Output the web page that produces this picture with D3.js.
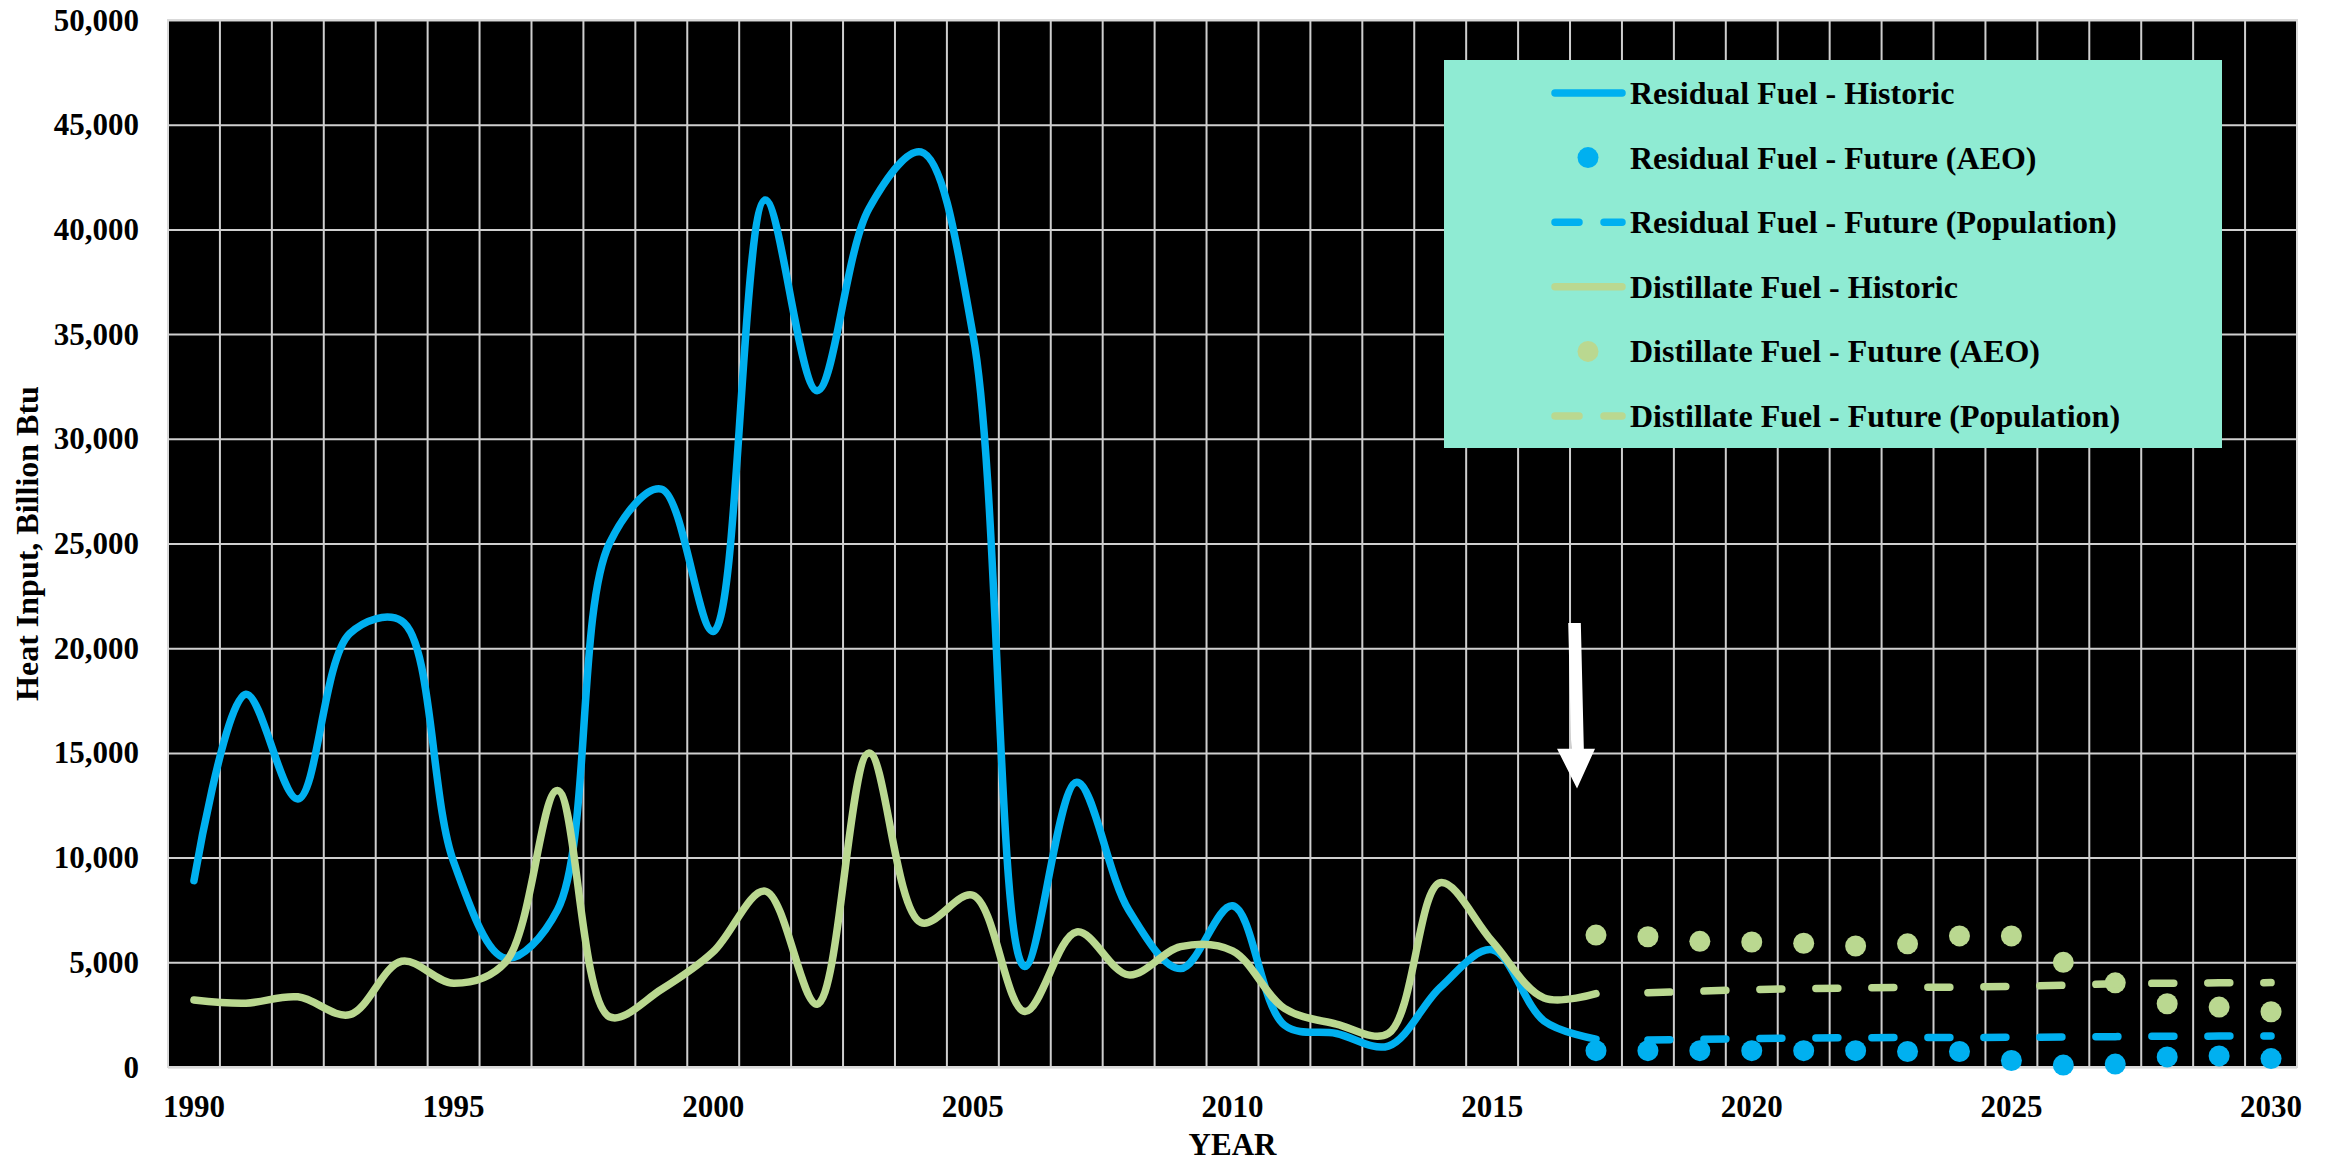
<!DOCTYPE html>
<html>
<head>
<meta charset="utf-8">
<script src="https://cdn.jsdelivr.net/npm/d3@7/dist/d3.min.js"></script>
<style>
  html, body { margin: 0; padding: 0; background: #ffffff; }
  svg { display: block; }
  text { font-family: "Liberation Serif", "Times New Roman", serif; font-weight: bold; fill: #000; }
</style>
</head>
<body>
<svg id="chart" width="2338" height="1161"></svg>
<script>
// ---- Data ---------------------------------------------------------------
const years = [1990, 1991, 1992, 1993, 1994, 1995, 1996, 1997, 1998, 1999,
               2000, 2001, 2002, 2003, 2004, 2005, 2006, 2007, 2008, 2009,
               2010, 2011, 2012, 2013, 2014, 2015, 2016, 2017, 2018, 2019,
               2020, 2021, 2022, 2023, 2024, 2025, 2026, 2027, 2028, 2029, 2030];

const xTickYears = [1990, 1995, 2000, 2005, 2010, 2015, 2020, 2025, 2030];
const yTicks = [0, 5000, 10000, 15000, 20000, 25000, 30000, 35000, 40000, 45000, 50000];

const historicYears = [1990, 1991, 1992, 1993, 1994, 1995, 1996, 1997, 1998, 1999,
                       2000, 2001, 2002, 2003, 2004, 2005, 2006, 2007, 2008, 2009,
                       2010, 2011, 2012, 2013, 2014, 2015, 2016, 2017];
const residualHistoric = [8900, 17800, 12800, 20700, 21300, 9800, 5200, 7500, 25000, 27600,
                          20800, 41400, 32300, 41000, 43700, 35000, 4800, 13600, 7500, 4700,
                          7700, 2000, 1600, 1000, 3800, 5600, 2200, 1330];
const distillateHistoric = [3200, 3050, 3350, 2500, 5050, 4000, 5000, 13200, 2400, 3700,
                            5500, 8400, 3000, 15000, 6900, 8200, 2650, 6450, 4400, 5750,
                            5550, 2800, 2050, 1600, 8800, 6000, 3300, 3500];

const aeoYears = [2017, 2018, 2019, 2020, 2021, 2022, 2023, 2024, 2025, 2026, 2027, 2028, 2029, 2030];
const residualAEO = [780, 780, 780, 780, 780, 780, 740, 740, 310, 90, 140, 480, 530, 400];
const distillateAEO = [6300, 6220, 6000, 5970, 5910, 5780, 5880, 6260, 6260, 5000, 4020, 3020, 2860, 2640];

const popYears = [2018, 2019, 2020, 2021, 2022, 2023, 2024, 2025, 2026, 2027, 2028, 2029, 2030];
const residualPop = [1290, 1320, 1360, 1380, 1400, 1405, 1410, 1420, 1430, 1450, 1470, 1475, 1480];
const distillatePop = [3550, 3620, 3700, 3740, 3780, 3800, 3810, 3850, 3900, 3980, 4000, 4020, 4030];

const legendLabels = [
  "Residual Fuel - Historic",
  "Residual Fuel - Future (AEO)",
  "Residual Fuel - Future (Population)",
  "Distillate Fuel - Historic",
  "Distillate Fuel - Future (AEO)",
  "Distillate Fuel - Future (Population)"
];

// ---- Styles -------------------------------------------------------------
const BLUE = "#00B0F0";
const GREEN = "#BAD890";
const GRID = "#CFCFCF";
const LEGEND_BG = "#8FEBD3";
const LINE_W = 7.5;
const DOT_R = 10.5;
const DASH = "22 34";

// ---- Layout & scales ----------------------------------------------------
const plot = { left: 168, right: 2297, top: 20, bottom: 1067 };
const svg = d3.select("#chart");

const x = d3.scaleBand().domain(years).range([plot.left, plot.right]).padding(0);
const xc = yr => x(yr) + x.bandwidth() / 2;
const y = d3.scaleLinear().domain([0, 50000]).range([plot.bottom, plot.top]);

// Plot background
svg.append("rect")
  .attr("x", plot.left).attr("y", plot.top)
  .attr("width", plot.right - plot.left).attr("height", plot.bottom - plot.top)
  .attr("fill", "#000");

// Horizontal gridlines via a left axis with full-width ticks
const yGrid = svg.append("g")
  .attr("transform", `translate(${plot.left},0)`)
  .call(d3.axisLeft(y).tickValues(yTicks).tickSize(-(plot.right - plot.left)).tickFormat(""));
yGrid.select(".domain").remove();
yGrid.selectAll("line").attr("stroke", GRID).attr("stroke-width", 2);

// Vertical gridlines at every category boundary
const boundaries = years.map(yr => x(yr)).concat([x(years[years.length - 1]) + x.bandwidth()]);
svg.append("g").selectAll("line")
  .data(boundaries)
  .join("line")
  .attr("x1", d => d).attr("x2", d => d)
  .attr("y1", plot.top).attr("y2", plot.bottom)
  .attr("stroke", GRID).attr("stroke-width", 2);

// Plot frame
svg.append("rect")
  .attr("x", plot.left).attr("y", plot.top)
  .attr("width", plot.right - plot.left).attr("height", plot.bottom - plot.top)
  .attr("fill", "none").attr("stroke", "#D9D9D9").attr("stroke-width", 2);

// Y tick labels
const fmt = d3.format(",");
svg.append("g").selectAll("text")
  .data(yTicks)
  .join("text")
  .attr("x", plot.left - 29)
  .attr("y", d => y(d) + 10.5)
  .attr("text-anchor", "end")
  .attr("font-size", 31)
  .text(d => fmt(d));

// X tick labels
svg.append("g").selectAll("text")
  .data(xTickYears)
  .join("text")
  .attr("x", d => xc(d))
  .attr("y", 1117)
  .attr("text-anchor", "middle")
  .attr("font-size", 31)
  .text(d => d);

// Axis titles
svg.append("text")
  .attr("x", (plot.left + plot.right) / 2)
  .attr("y", 1155)
  .attr("text-anchor", "middle")
  .attr("font-size", 31)
  .text("YEAR");

svg.append("text")
  .attr("transform", `translate(38,${(plot.top + plot.bottom) / 2}) rotate(-90)`)
  .attr("text-anchor", "middle")
  .attr("font-size", 32)
  .text("Heat Input, Billion Btu");

// ---- Series -------------------------------------------------------------
const smooth = d3.line()
  .x(d => xc(d[0]))
  .y(d => y(d[1]))
  .curve(d3.curveCatmullRom.alpha(0.5));
const straight = d3.line()
  .x(d => xc(d[0]))
  .y(d => y(d[1]));

const zip = (a, b) => a.map((v, i) => [v, b[i]]);

function drawHistoric(vals, color) {
  svg.append("path")
    .datum(zip(historicYears, vals))
    .attr("d", smooth)
    .attr("fill", "none")
    .attr("stroke", color)
    .attr("stroke-width", LINE_W)
    .attr("stroke-linecap", "round")
    .attr("stroke-linejoin", "round");
}
function drawDots(vals, color) {
  svg.append("g").selectAll("circle")
    .data(zip(aeoYears, vals))
    .join("circle")
    .attr("cx", d => xc(d[0]))
    .attr("cy", d => y(d[1]))
    .attr("r", DOT_R)
    .attr("fill", color);
}
function drawPop(vals, color) {
  svg.append("path")
    .datum(zip(popYears, vals))
    .attr("d", straight)
    .attr("fill", "none")
    .attr("stroke", color)
    .attr("stroke-width", LINE_W)
    .attr("stroke-linecap", "round")
    .attr("stroke-dasharray", DASH);
}

drawHistoric(residualHistoric, BLUE);
drawDots(residualAEO, BLUE);
drawPop(residualPop, BLUE);
drawHistoric(distillateHistoric, GREEN);
drawDots(distillateAEO, GREEN);
drawPop(distillatePop, GREEN);

// ---- Arrow marking the start of the projections ---------------------------
const arrowYear = 2017;
const arrowTop = 21200, arrowHeadBase = 15200, arrowTip = 13300;
const ax = x(arrowYear) + 6;
const shaftHalf = 6.3, headHalf = 19;
const arrowPts = [
  [ax - shaftHalf - 1.5, y(arrowTop)],
  [ax + shaftHalf - 1.5, y(arrowTop)],
  [ax + shaftHalf + 1.5, y(arrowHeadBase)],
  [ax + headHalf, y(arrowHeadBase)],
  [ax + 1, y(arrowTip)],
  [ax - headHalf, y(arrowHeadBase)],
  [ax - shaftHalf + 1.5, y(arrowHeadBase)]
];
svg.append("path")
  .attr("d", d3.line()(arrowPts) + "Z")
  .attr("fill", "#ffffff");

// ---- Legend -------------------------------------------------------------
const legend = svg.append("g");
legend.append("rect")
  .attr("x", 1444).attr("y", 60)
  .attr("width", 778).attr("height", 388)
  .attr("fill", LEGEND_BG);

const legendKinds = ["line", "dot", "dash", "line", "dot", "dash"];
const legendColors = [BLUE, BLUE, BLUE, GREEN, GREEN, GREEN];
const rowY = i => 93 + i * 64.6;
const swX0 = 1555, swX1 = 1622;

legendLabels.forEach((label, i) => {
  const cy = rowY(i);
  const kind = legendKinds[i];
  const col = legendColors[i];
  if (kind === "line") {
    legend.append("line")
      .attr("x1", swX0).attr("x2", swX1).attr("y1", cy).attr("y2", cy)
      .attr("stroke", col).attr("stroke-width", LINE_W).attr("stroke-linecap", "round");
  } else if (kind === "dash") {
    legend.append("line")
      .attr("x1", swX0).attr("x2", swX1).attr("y1", cy).attr("y2", cy)
      .attr("stroke", col).attr("stroke-width", LINE_W).attr("stroke-linecap", "round")
      .attr("stroke-dasharray", "24 25");
  } else {
    legend.append("circle")
      .attr("cx", (swX0 + swX1) / 2 - 0.5).attr("cy", cy).attr("r", DOT_R)
      .attr("fill", col);
  }
  legend.append("text")
    .attr("x", 1630)
    .attr("y", cy + 11)
    .attr("font-size", 32)
    .text(label);
});
</script>
</body>
</html>
